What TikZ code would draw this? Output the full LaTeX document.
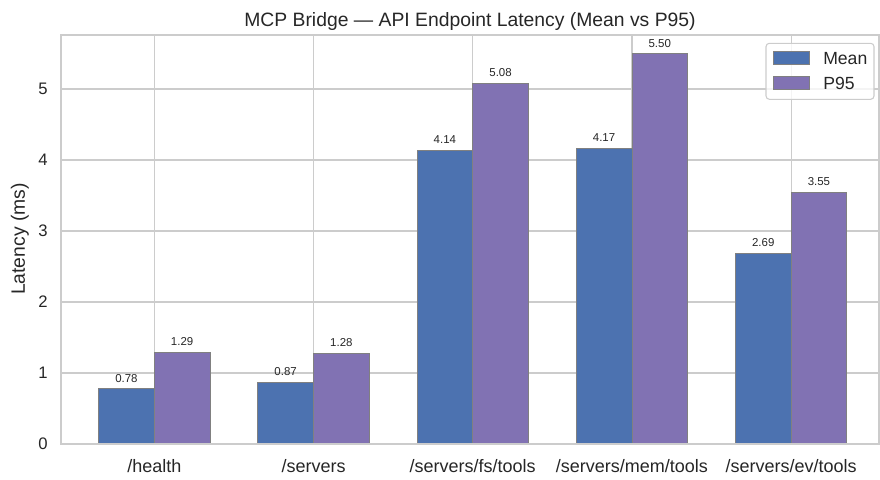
\documentclass[tikz,border=0pt]{standalone}
\usepackage{fontspec}
\setmainfont{Liberation Sans}
\definecolor{meanc}{RGB}{76,114,176}
\definecolor{p95c}{RGB}{129,114,179}
\definecolor{gridc}{RGB}{204,204,204}
\definecolor{edgec}{RGB}{128,128,128}
\definecolor{txt}{RGB}{38,38,38}
\tikzset{
  gridline/.style={draw=gridc, line width=0.9pt},
  spine/.style={draw=gridc, line width=1pt},
  barbox/.style={draw=edgec, line width=0.5pt},
  vallabel/.style={font=\fontsize{8.6}{10}\selectfont, text=txt, inner sep=0pt, anchor=base},
  ytick/.style={font=\fontsize{12.5}{14}\selectfont, text=txt, inner sep=0pt, anchor=east},
  xtick/.style={font=\fontsize{13.5}{16}\selectfont, text=txt, inner sep=0pt, anchor=base},
  axlabel/.style={font=\fontsize{14.5}{17}\selectfont, text=txt, inner sep=0pt},
  titletext/.style={font=\fontsize{14.5}{17}\selectfont, text=txt, inner sep=0pt, anchor=base},
  legtext/.style={font=\fontsize{13.2}{15}\selectfont, text=txt, inner sep=0pt, anchor=base west},
}
\begin{document}
\begin{tikzpicture}[x=0.75pt,y=-0.75pt]
\useasboundingbox (0,0) rectangle (880,479);
% grid
\foreach \v in {1,...,5}
  \draw[gridline] (61,{444-71*\v}) -- (879,{444-71*\v});
\foreach \i in {0,...,4}
  \draw[gridline] ({154.3+159.2*\i},35) -- ({154.3+159.2*\i},444);
% bars
\foreach \i/\m/\p in {0/0.78/1.29, 1/0.87/1.28, 2/4.14/5.08, 3/4.17/5.50, 4/2.69/3.55} {
  \pgfmathsetmacro{\c}{154.3+159.2*\i}
  \draw[barbox, fill=meanc] ({\c-55.7},444) rectangle (\c,{444-71*\m});
  \draw[barbox, fill=p95c] (\c,444) rectangle ({\c+55.7},{444-71*\p});
  \node[vallabel] (mv\i) at ({\c-27.85},{444-71*\m-6.5}) {\m};
  \node[vallabel] (pv\i) at ({\c+27.85},{444-71*\p-6.5}) {\p};
}
% frame
\draw[spine] (61,35) rectangle (879,444);
% y ticks
\foreach \v in {0,...,5}
  \node[ytick] (yt\v) at (48,{444-71*\v}) {\v};
% x ticks
\foreach \i/\t in {0/{/health}, 1/{/servers}, 2/{/servers/fs/tools}, 3/{/servers/mem/tools}, 4/{/servers/ev/tools}}
  \node[xtick] (xt\i) at ({154.3+159.2*\i},472) {\t};
% axis label and title
\node[axlabel, rotate=90] (ylab) at (20,239) {Latency (ms)};
\node[titletext] (title) at (470,26.5) {MCP Bridge — API Endpoint Latency (Mean vs P95)};
% legend
\draw[draw=gridc, line width=0.8pt, fill=white, fill opacity=0.8, rounded corners=2.5pt] (766,43.3) rectangle (874,99.3);
\draw[barbox, fill=meanc] (773,51) rectangle (809,64);
\draw[barbox, fill=p95c] (773,76) rectangle (809,89);
\node[legtext] (lmean) at (823,64) {Mean};
\node[legtext] (lp95) at (823,89) {P95};
\end{tikzpicture}
\end{document}
